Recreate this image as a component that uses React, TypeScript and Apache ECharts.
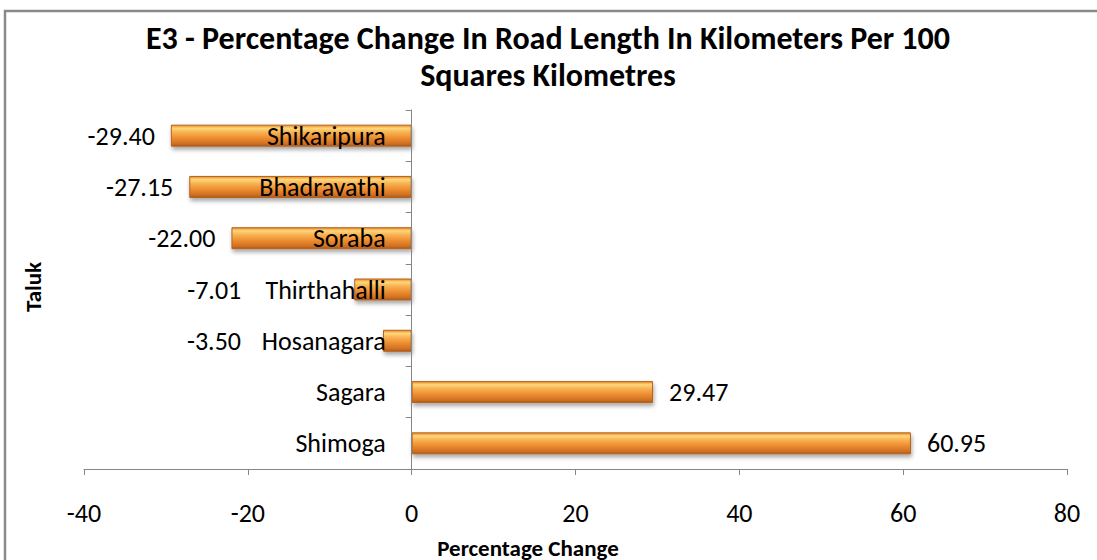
import React, { useEffect, useRef } from "react";
import * as echarts from "echarts";

const titleLines = [
  "E3 - Percentage Change In Road Length In Kilometers Per 100",
  "Squares Kilometres",
];
const taluks = [
  "Shimoga",
  "Sagara",
  "Hosanagara",
  "Thirthahalli",
  "Soraba",
  "Bhadravathi",
  "Shikaripura",
];
const percentChange = [60.95, 29.47, -3.5, -7.01, -22.0, -27.15, -29.4];
const xTicks = { min: -40, max: 80, interval: 20 };
const xAxisTitle = "Percentage Change";
const yAxisTitle = "Taluk";

const FONT = "Carlito, Lato, 'Open Sans', sans-serif";

export default function App() {
  const ref = useRef<HTMLDivElement>(null);
  useEffect(() => {
    document.body.style.margin = "0";
    if (!ref.current) return;
    const chart = echarts.init(ref.current, null, { renderer: "svg" });
    const W = 1097;
    const gridLeft = 84;
    const gridRight = 30;
    const plotW = W - gridLeft - gridRight;
    const zeroShift = ((0 - xTicks.min) / (xTicks.max - xTicks.min)) * plotW;
    // label distances chosen so value labels clear the category labels
    const labelDist: Record<string, number> = {
      Hosanagara: 142,
      Thirthahalli: 113,
    };
    const barColor = new echarts.graphic.LinearGradient(0, 0, 0, 1, [
      { offset: 0, color: "#E8892A" },
      { offset: 0.15, color: "#FFD879" },
      { offset: 0.32, color: "#F9B455" },
      { offset: 0.6, color: "#EE8E31" },
      { offset: 0.88, color: "#CF7023" },
      { offset: 1, color: "#A9591B" },
    ]);
    chart.setOption({
      animation: false,
      backgroundColor: "#ffffff",
      textStyle: { fontFamily: FONT },
      grid: {
        left: gridLeft,
        right: gridRight,
        top: 110,
        bottom: 91,
        containLabel: false,
        outerBoundsMode: "none",
      },
      graphic: [
        {
          type: "rect",
          shape: { x: 5, y: 11, width: 1200, height: 700 },
          style: { fill: "none", stroke: "#8a8a8a", lineWidth: 2.5 },
          z: -1,
        },
        {
          type: "text",
          x: 548,
          y: 38,
          style: {
            text: titleLines[0],
            font: `bold 32px ${FONT}`,
            fill: "#000",
            textAlign: "center",
            textVerticalAlign: "middle",
          },
        },
        {
          type: "text",
          x: 548,
          y: 75,
          style: {
            text: titleLines[1],
            font: `bold 32px ${FONT}`,
            fill: "#000",
            textAlign: "center",
            textVerticalAlign: "middle",
          },
        },
        {
          type: "text",
          x: 528,
          y: 548,
          style: {
            text: xAxisTitle,
            font: `bold 23px ${FONT}`,
            fill: "#000",
            textAlign: "center",
            textVerticalAlign: "middle",
          },
        },
        {
          type: "text",
          x: 33,
          y: 287,
          rotation: Math.PI / 2,
          style: {
            text: yAxisTitle,
            font: `bold 23px ${FONT}`,
            fill: "#000",
            textAlign: "center",
            textVerticalAlign: "middle",
          },
        },
      ],
      xAxis: {
        type: "value",
        min: xTicks.min,
        max: xTicks.max,
        interval: xTicks.interval,
        axisLine: { show: true, lineStyle: { color: "#868686", width: 1 } },
        axisTick: { show: true, length: 6, lineStyle: { color: "#868686" } },
        splitLine: { show: false },
        axisLabel: { fontSize: 26, color: "#000", margin: 31, fontFamily: FONT },
      },
      yAxis: {
        type: "category",
        data: taluks,
        z: 5,
        offset: -zeroShift,
        axisLine: { show: true, onZero: false, lineStyle: { color: "#868686", width: 1 } },
        axisTick: { show: true, length: 6, lineStyle: { color: "#868686" } },
        splitLine: { show: false },
        axisLabel: { fontSize: 26, color: "#000", margin: 26, fontFamily: FONT },
      },
      series: [
        {
          type: "bar",
          barWidth: 22,
          data: percentChange.map((v, i) => ({
            value: v,
            label: {
              position: v < 0 ? "left" : "right",
              distance: labelDist[taluks[i]] ?? 16,
            },
          })),
          itemStyle: {
            color: barColor,
            borderColor: "#B5621E",
            borderWidth: 1,
            shadowColor: "rgba(0,0,0,0.35)",
            shadowBlur: 4,
            shadowOffsetY: 3,
            shadowOffsetX: 1,
          },
          label: {
            show: true,
            fontSize: 26,
            color: "#000",
            fontFamily: FONT,
            formatter: (p: any) => Number(p.value).toFixed(2),
          },
        },
      ],
    });
    return () => chart.dispose();
  }, []);
  return <div ref={ref} style={{ width: 1097, height: 560 }} />;
}
